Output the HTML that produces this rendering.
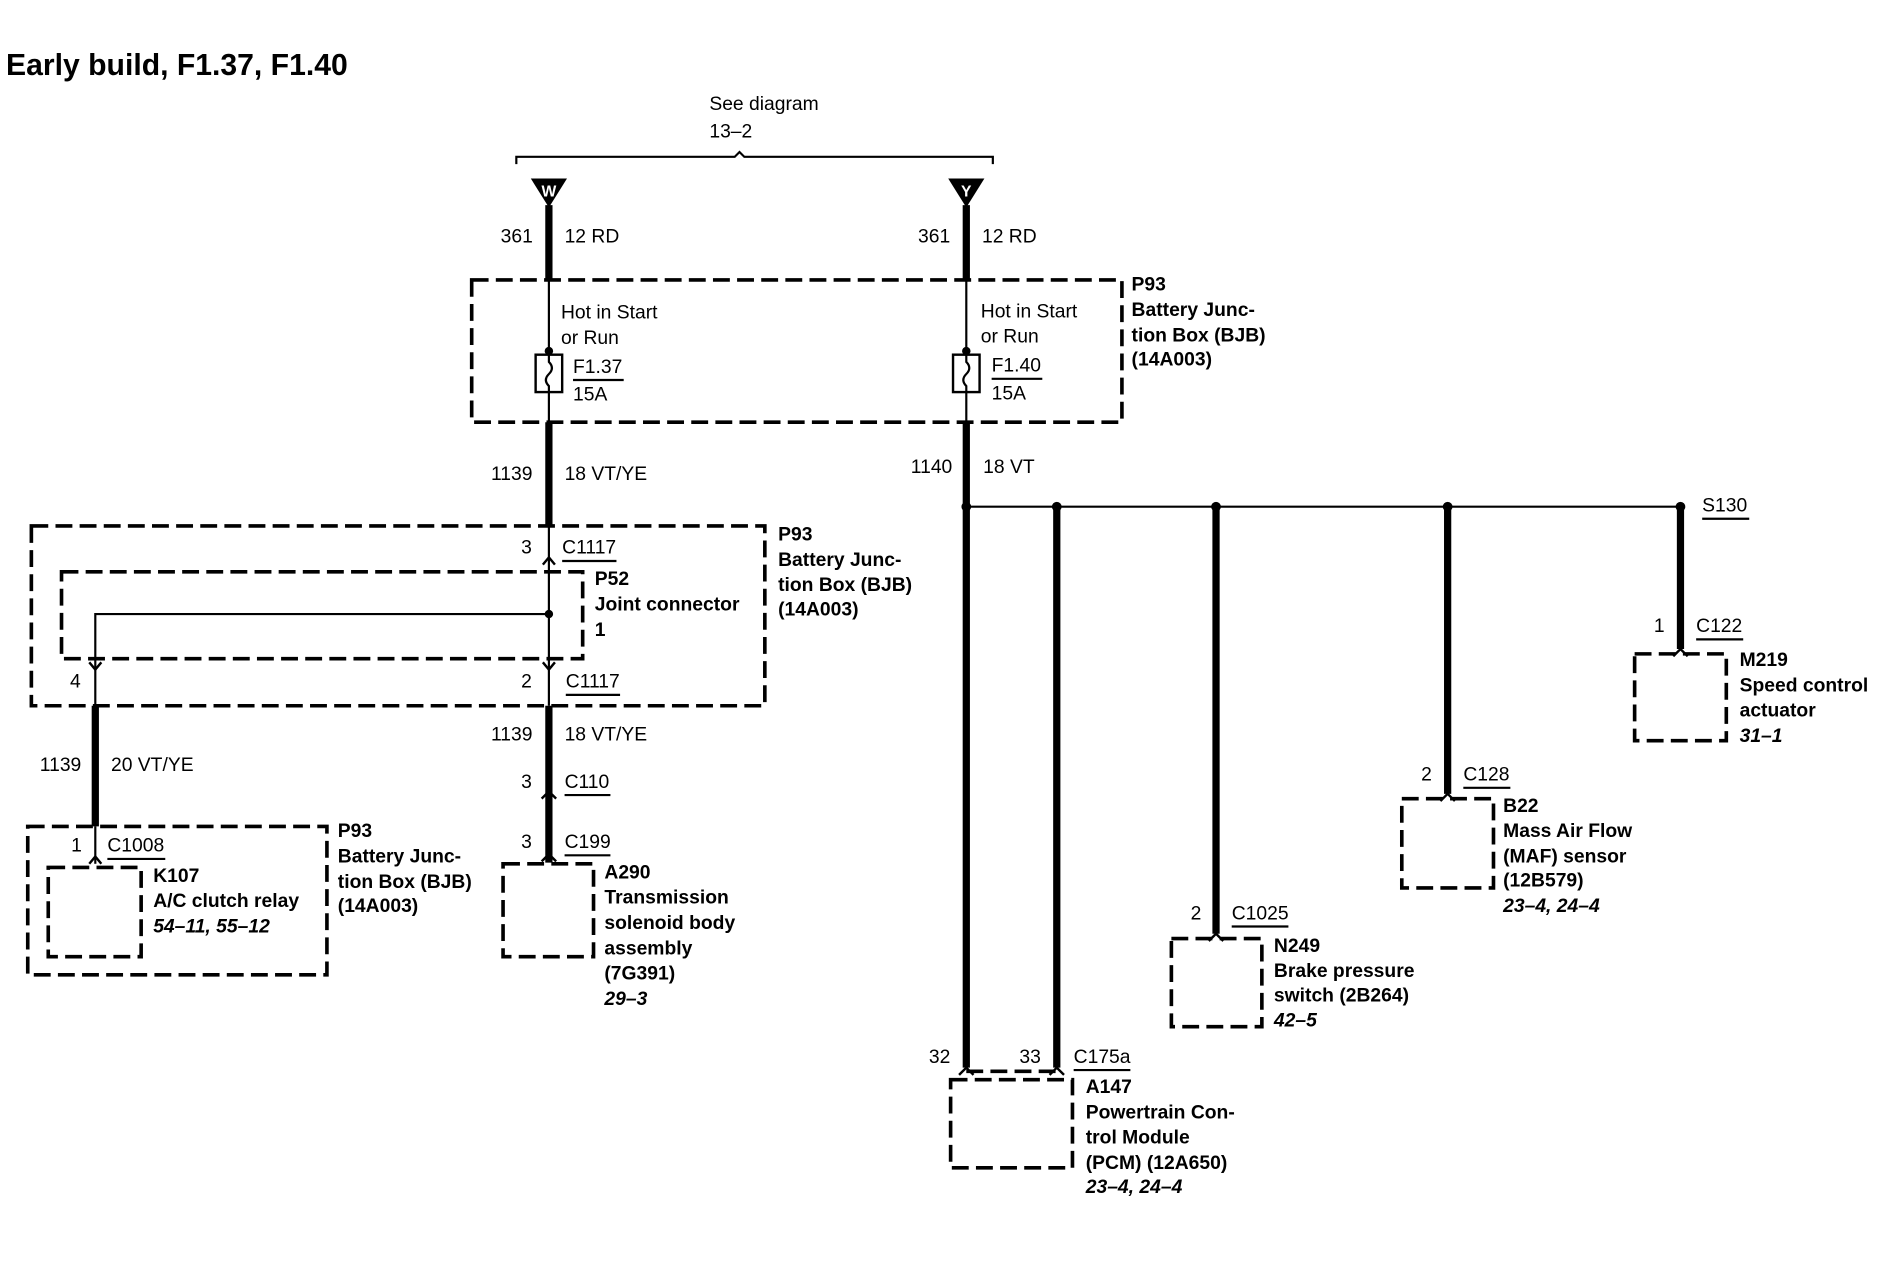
<!DOCTYPE html>
<html><head><meta charset="utf-8"><style>
html,body{margin:0;padding:0;background:#fff;}
svg{display:block;}
text{font-family:"Liberation Sans",Arial,sans-serif;font-size:16px;fill:#000;}
.b{font-weight:bold;}
.i{font-weight:bold;font-style:italic;}
.box{fill:none;stroke:#000;stroke-width:3;stroke-dasharray:14 6;}
.thick{stroke:#000;stroke-width:6;fill:none;}
.thin{stroke:#000;stroke-width:1.8;fill:none;}
.chev{stroke:#000;stroke-width:2;fill:none;}
</style></head><body>
<svg width="1894" height="1280" viewBox="0 0 1570 1061" preserveAspectRatio="none" xmlns="http://www.w3.org/2000/svg">
<text x="5" y="62" class="b" style="font-size:25px">Early build, F1.37, F1.40</text>
<text x="588" y="91">See diagram</text>
<text x="588" y="114">13–2</text>
<path d="M428,136 L428,130 L609,130 L613,126 L617,130 L823,130 L823,136" class="thin"/>
<polygon points="440,148 470,148 455,172" fill="#000"/>
<text x="455" y="163" text-anchor="middle" class="b" style="fill:#fff;font-size:13px">W</text>
<polygon points="786,148 816,148 801,172" fill="#000"/>
<text x="801" y="163" text-anchor="middle" class="b" style="fill:#fff;font-size:13px">Y</text>
<line x1="455" y1="170" x2="455" y2="232" class="thick"/>
<line x1="801" y1="170" x2="801" y2="232" class="thick"/>
<text x="415" y="201">361</text><text x="468" y="201">12 RD</text>
<text x="761" y="201">361</text><text x="814" y="201">12 RD</text>
<rect x="391" y="232" width="539" height="118" class="box"/>
<line x1="455" y1="232" x2="455" y2="350" class="thin"/>
<line x1="801" y1="232" x2="801" y2="350" class="thin"/>
<circle cx="455" cy="291" r="3.5"/><circle cx="801" cy="291" r="3.5"/>
<rect x="444" y="294" width="22" height="31" fill="#fff" stroke="#000" stroke-width="2"/>
<rect x="790" y="294" width="22" height="31" fill="#fff" stroke="#000" stroke-width="2"/>
<path d="M455,294 L455,300 Q460,305 455,310 Q450,315 455,320 L455,325" class="thin"/>
<path d="M801,294 L801,300 Q806,305 801,310 Q796,315 801,320 L801,325" class="thin"/>
<text x="465" y="264">Hot in Start</text><text x="465" y="285">or Run</text>
<text x="813" y="263">Hot in Start</text><text x="813" y="284">or Run</text>
<text x="475" y="309">F1.37</text><line x1="475" y1="315" x2="517" y2="315" class="thin"/><text x="475" y="332">15A</text>
<text x="822" y="308">F1.40</text><line x1="822" y1="314" x2="864" y2="314" class="thin"/><text x="822" y="331">15A</text>
<text x="938" y="241" class="b">P93</text><text x="938" y="262" class="b">Battery Junc-</text><text x="938" y="283" class="b">tion Box (BJB)</text><text x="938" y="303" class="b">(14A003)</text>
<line x1="455" y1="350" x2="455" y2="437" class="thick"/>
<text x="407" y="398">1139</text><text x="468" y="398">18 VT/YE</text>
<line x1="801" y1="350" x2="801" y2="885" class="thick"/>
<text x="755" y="392">1140</text><text x="815" y="392">18 VT</text>
<line x1="801" y1="420" x2="1393" y2="420" class="thin"/>
<circle cx="801" cy="420" r="4"/><circle cx="876" cy="420" r="4"/><circle cx="1008" cy="420" r="4"/><circle cx="1200" cy="420" r="4"/><circle cx="1393" cy="420" r="4"/>
<text x="1411" y="424">S130</text><line x1="1411" y1="430" x2="1450" y2="430" class="thin"/>
<line x1="876" y1="420" x2="876" y2="885" class="thick"/>
<line x1="1008" y1="420" x2="1008" y2="774" class="thick"/>
<line x1="1200" y1="420" x2="1200" y2="658" class="thick"/>
<line x1="1393" y1="420" x2="1393" y2="538" class="thick"/>
<rect x="26" y="436" width="608" height="149" class="box"/>
<rect x="51" y="474" width="432" height="72" class="box"/>
<line x1="455" y1="437" x2="455" y2="585" class="thin"/>
<path d="M450,468 L455,462 L460,468" class="chev"/>
<path d="M450,549 L455,555 L460,549" class="chev"/>
<circle cx="455" cy="509" r="3.5"/>
<path d="M455,509 L79,509 L79,585" class="thin"/>
<path d="M74,549 L79,555 L84,549" class="chev"/>
<text x="432" y="459">3</text><text x="466" y="459">C1117</text><line x1="466" y1="465" x2="511" y2="465" class="thin"/>
<text x="493" y="485" class="b">P52</text><text x="493" y="506" class="b">Joint connector</text><text x="493" y="527" class="b">1</text>
<text x="58" y="570">4</text><text x="432" y="570">2</text>
<text x="469" y="570">C1117</text><line x1="469" y1="576" x2="514" y2="576" class="thin"/>
<text x="645" y="448" class="b">P93</text><text x="645" y="469" class="b">Battery Junc-</text><text x="645" y="490" class="b">tion Box (BJB)</text><text x="645" y="510" class="b">(14A003)</text>
<line x1="79" y1="585" x2="79" y2="685" class="thick"/>
<line x1="79" y1="685" x2="79" y2="716" class="thin"/>
<path d="M74,716 L79,710 L84,716" class="chev"/>
<text x="33" y="639">1139</text><text x="92" y="639">20 VT/YE</text>
<rect x="23" y="685" width="248" height="123" class="box"/>
<rect x="40" y="719" width="77" height="74" class="box"/>
<text x="59" y="706">1</text><text x="89" y="706">C1008</text><line x1="89" y1="712" x2="137" y2="712" class="thin"/>
<text x="127" y="731" class="b">K107</text><text x="127" y="752" class="b">A/C clutch relay</text><text x="127" y="773" class="i">54–11, 55–12</text>
<text x="280" y="694" class="b">P93</text><text x="280" y="715" class="b">Battery Junc-</text><text x="280" y="736" class="b">tion Box (BJB)</text><text x="280" y="756" class="b">(14A003)</text>
<line x1="455" y1="585" x2="455" y2="715" class="thick"/>
<path d="M449,662 L455,656 L461,662" class="chev" stroke-width="2.5"/>
<path d="M449,714 L455,708 L461,714" class="chev" stroke-width="2.5"/>
<text x="407" y="614">1139</text><text x="468" y="614">18 VT/YE</text>
<text x="432" y="653">3</text><text x="468" y="653">C110</text><line x1="468" y1="659" x2="506" y2="659" class="thin"/>
<text x="432" y="703">3</text><text x="468" y="703">C199</text><line x1="468" y1="709" x2="506" y2="709" class="thin"/>
<rect x="417" y="716" width="75" height="77" class="box"/>
<text x="501" y="728" class="b">A290</text><text x="501" y="749" class="b">Transmission</text><text x="501" y="770" class="b">solenoid body</text><text x="501" y="791" class="b">assembly</text><text x="501" y="812" class="b">(7G391)</text><text x="501" y="833" class="i">29–3</text>
<path d="M795,891 L801,885 L807,891" class="chev" stroke-width="2.5"/>
<path d="M870,891 L876,885 L882,891" class="chev" stroke-width="2.5"/>
<line x1="801" y1="888" x2="876" y2="888" class="box"/>
<rect x="788" y="895" width="101" height="73" class="box"/>
<text x="770" y="881">32</text><text x="845" y="881">33</text>
<text x="890" y="881">C175a</text><line x1="890" y1="887" x2="937" y2="887" class="thin"/>
<text x="900" y="906" class="b">A147</text><text x="900" y="927" class="b">Powertrain Con-</text><text x="900" y="948" class="b">trol Module</text><text x="900" y="969" class="b">(PCM) (12A650)</text><text x="900" y="989" class="i">23–4, 24–4</text>
<path d="M1002,780 L1008,774 L1014,780" class="chev" stroke-width="2.5"/>
<rect x="971" y="778" width="75" height="73" class="box"/>
<text x="987" y="762">2</text><text x="1021" y="762">C1025</text><line x1="1021" y1="768" x2="1068" y2="768" class="thin"/>
<text x="1056" y="789" class="b">N249</text><text x="1056" y="810" class="b">Brake pressure</text><text x="1056" y="830" class="b">switch (2B264)</text><text x="1056" y="851" class="i">42–5</text>
<path d="M1194,664 L1200,658 L1206,664" class="chev" stroke-width="2.5"/>
<rect x="1162" y="662" width="76" height="74" class="box"/>
<text x="1178" y="647">2</text><text x="1213" y="647">C128</text><line x1="1213" y1="653" x2="1252" y2="653" class="thin"/>
<text x="1246" y="673" class="b">B22</text><text x="1246" y="694" class="b">Mass Air Flow</text><text x="1246" y="715" class="b">(MAF) sensor</text><text x="1246" y="735" class="b">(12B579)</text><text x="1246" y="756" class="i">23–4, 24–4</text>
<path d="M1387,544 L1393,538 L1399,544" class="chev" stroke-width="2.5"/>
<rect x="1355" y="542" width="76" height="72" class="box"/>
<text x="1371" y="524">1</text><text x="1406" y="524">C122</text><line x1="1406" y1="530" x2="1445" y2="530" class="thin"/>
<text x="1442" y="552" class="b">M219</text><text x="1442" y="573" class="b">Speed control</text><text x="1442" y="594" class="b">actuator</text><text x="1442" y="615" class="i">31–1</text>
</svg>
</body></html>
